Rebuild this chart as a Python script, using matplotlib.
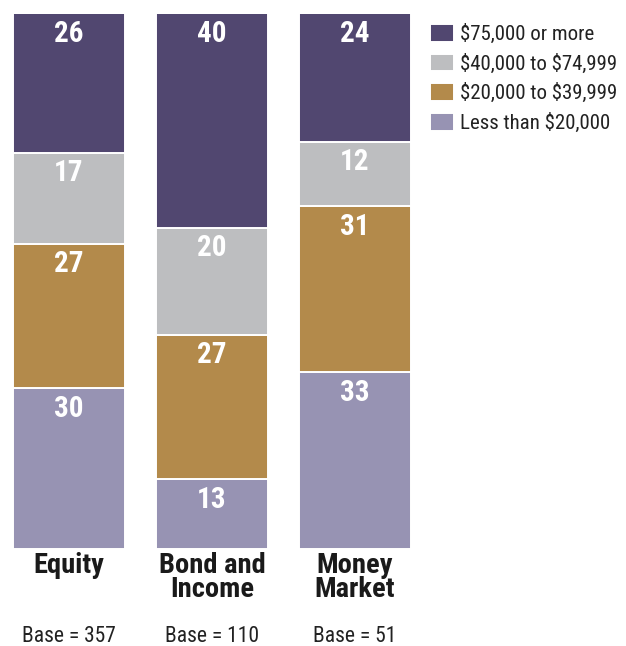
import matplotlib
matplotlib.use("Agg")
import matplotlib.pyplot as plt
from matplotlib import font_manager as fm

# Data
categories = ["Equity", "Bond and\nIncome", "Money\nMarket"]
bases = [357, 110, 51]
series_names = ["Less than $20,000", "$20,000 to $39,999",
                "$40,000 to $74,999", "$75,000 or more"]
less_20k = [30, 13, 33]
from_20k_to_40k = [27, 27, 31]
from_40k_to_75k = [17, 20, 12]
over_75k = [26, 40, 24]
series_values = [less_20k, from_20k_to_40k, from_40k_to_75k, over_75k]
colors = ["#9793B3", "#B38A4B", "#BDBEC0", "#514770"]

available = {f.name for f in fm.fontManager.ttflist}
narrow = next((n for n in ["Roboto Condensed", "Liberation Sans Narrow",
                           "DejaVu Sans Condensed", "Open Sans Condensed"]
               if n in available), "DejaVu Sans")
plt.rcParams["font.family"] = [narrow, "DejaVu Sans"]
plt.rcParams["text.parse_math"] = False

W, H = 626, 646
fig = plt.figure(figsize=(W / 100, H / 100), dpi=100)
# axes spans pixel columns ~4..419 and rows 13.5..549
ax = fig.add_axes([4.65 / W, 97 / H, 414.7 / W, 535.5 / H])
ax.set_xlim(-0.45, 2.45)
ax.set_ylim(0, 100)
ax.axis("off")

x = list(range(len(categories)))
width = 0.783
bottoms = [0] * len(categories)
handles = []
for name, vals, col in zip(series_names, series_values, colors):
    bars = ax.bar(x, vals, width, bottom=bottoms, color=col,
                  edgecolor="white", linewidth=1.4, label=name)
    handles.append(bars)
    for xi, v, b in zip(x, vals, bottoms):
        ax.annotate(f"{v}", xy=(xi, b + v), xytext=(0, -4.5),
                    textcoords="offset points", ha="center", va="top",
                    color="white", fontsize=21, fontweight="bold")
    bottoms = [b + v for b, v in zip(bottoms, vals)]

for xi, cat, base in zip(x, categories, bases):
    ax.annotate(cat, xy=(xi, 0), xytext=(0, -2.5), textcoords="offset points",
                ha="center", va="top", fontsize=20.5, fontweight="bold",
                color="#1a1a1a", linespacing=0.85)
    ax.annotate(f"Base = {base}", xy=(xi, 0), xytext=(0, -67),
                textcoords="offset points", ha="center", va="baseline",
                fontsize=15.5, color="#222222")

leg = fig.legend(handles[::-1], series_names[::-1],
                 loc="upper left", bbox_to_anchor=(430 / W, 1 - 24 / H),
                 frameon=False, fontsize=15, borderpad=0, borderaxespad=0,
                 handlelength=1.15, handleheight=0.95, handletextpad=0.3,
                 labelspacing=0.45)
for t in leg.get_texts():
    t.set_color("#222222")

fig.savefig("out.png", dpi=100)
